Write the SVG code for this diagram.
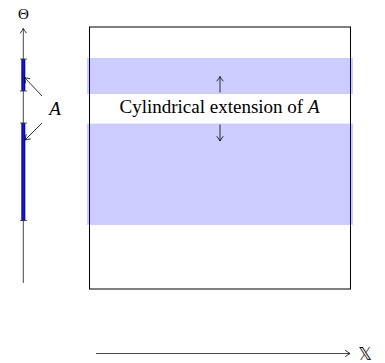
<svg xmlns="http://www.w3.org/2000/svg" width="385" height="363" viewBox="0 0 385 363">
<defs>
<marker id="tip" viewBox="-6 -4 8 8" refX="0" refY="0" markerWidth="8" markerHeight="8" markerUnits="userSpaceOnUse" orient="auto">
<path d="M-4.5,-3 Q-1.5,-0.8 0,0 Q-1.5,0.8 -4.5,3" fill="none" stroke="#000" stroke-width="0.8" stroke-linecap="round"/>
</marker>
</defs>
<style>
.ax{stroke:#333;stroke-width:0.9;fill:none}
.ln{stroke:#000;stroke-width:0.8;fill:none}
.seg{stroke:#0000ff;stroke-width:4}
.tick{stroke:#333;stroke-width:0.8}
.band{fill:#0000ff;fill-opacity:0.2}
.t{font-family:"Liberation Serif",serif;fill:#000}
</style>
<g id="box">
<rect x="89.5" y="27" width="261" height="262" fill="#fff" stroke="#000" stroke-width="1"/>
<rect class="band" x="87" y="58" width="266" height="36"/>
<rect class="band" x="87" y="123.5" width="266" height="101.5"/>
</g>
<g id="theta-axis">
<line class="seg" x1="23.3" y1="59" x2="23.3" y2="91"/>
<line class="seg" x1="23.3" y1="123" x2="23.3" y2="221"/>
<line class="ax" x1="23.3" y1="283" x2="23.3" y2="28.5" marker-end="url(#tip)"/>
<line class="tick" x1="20" y1="59" x2="27" y2="59"/>
<line class="tick" x1="20" y1="91" x2="27" y2="91"/>
<line class="tick" x1="20" y1="123" x2="27" y2="123"/>
<line class="tick" x1="20" y1="220.5" x2="27" y2="220.5"/>
<text class="t" x="23.5" y="18.5" font-size="15" text-anchor="middle">Θ</text>
</g>
<g id="x-axis">
<line class="ax" x1="96" y1="353.5" x2="350" y2="353.5" marker-end="url(#tip)"/>
<text x="365" y="360" font-family="DejaVu Sans,sans-serif" font-size="17" text-anchor="middle" fill="#000">𝕏</text>
</g>
<g id="label-A">
<text class="t" x="55" y="115" font-size="19" font-style="italic" text-anchor="middle">A</text>
</g>
<g id="label-cyl">
<text class="t" x="219.5" y="113" font-size="19" text-anchor="middle">Cylindrical extension of <tspan font-style="italic">A</tspan></text>
</g>
<g id="connectors">
<line class="ln" x1="42" y1="96" x2="24.5" y2="77.5" marker-end="url(#tip)"/>
<line class="ln" x1="42" y1="123" x2="25" y2="140" marker-end="url(#tip)"/>
<line class="ln" x1="220" y1="92.5" x2="220" y2="76.5" marker-end="url(#tip)"/>
<line class="ln" x1="220" y1="124.5" x2="220" y2="141" marker-end="url(#tip)"/>
</g>
</svg>
